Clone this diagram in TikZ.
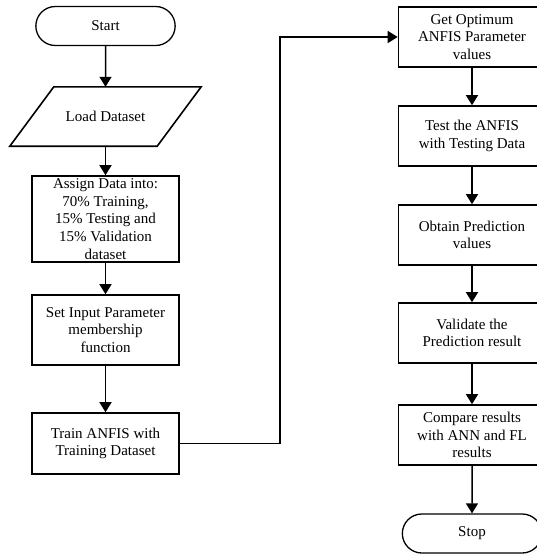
\documentclass[tikz,border=0pt]{standalone}
\usepackage{fontspec}
\setmainfont{Liberation Serif}
\usetikzlibrary{arrows.meta,shapes.misc}

\tikzset{
  box/.style={draw,line width=1.6pt,rectangle,minimum width=147pt,align=center,
    font=\fontsize{15}{17.7}\selectfont,inner sep=1pt},
  term/.style={draw,line width=1.3pt,rounded rectangle,minimum width=146pt,minimum height=39pt,
    font=\fontsize{15}{17.7}\selectfont},
  flow/.style={line width=1.5pt,-{Triangle[width=12pt,length=10pt]}}
}

\begin{document}
\begin{tikzpicture}[x=1pt,y=-1pt]
				\useasboundingbox (0,0) rectangle (537,555);
				% left column
				\node[term] (start) at (105.5,26) {Start};
				\node[minimum width=147pt,minimum height=59pt,font=\fontsize{15}{17.7}\selectfont] (load) at (105.5,116.5) {Load Dataset};
				\draw[line width=1.6pt] ([xshift=22pt]load.north west) -- ([xshift=22pt]load.north east)
					-- ([xshift=-22pt]load.south east) -- ([xshift=-22pt]load.south west) -- cycle;
				\node[box,minimum height=86pt] (assign) at (105.5,219) {Assign Data into:\\70\% Training,\\15\% Testing and\\15\% Validation\\dataset};
				\node[box,minimum height=70pt] (setin) at (105.5,330) {Set Input Parameter\\membership\\function};
				\node[box,minimum height=61pt] (train) at (105.5,443.5) {Train ANFIS with\\Training Dataset};
				\coordinate (bend) at (280,443.5);

				% right column
				\node[box,minimum height=60pt] (getopt) at (472,37) {Get Optimum\\ANFIS Parameter\\values};
				\node[box,minimum height=60pt] (test) at (472,136) {Test the ANFIS\\with Testing Data};
				\node[box,minimum height=60pt] (obtain) at (472,235) {Obtain Prediction\\values};
				\node[box,minimum height=60pt] (valid) at (472,333) {Validate the\\Prediction result};
				\node[box,minimum height=60pt] (compare) at (472,435) {Compare results\\with ANN and FL\\results};
				\node[term] (stop) at (472,533.5) {Stop};

				\draw[flow] (start) -- (load);
				\draw[flow] (load) -- (assign);
				\draw[flow] (assign) -- (setin);
				\draw[flow] (setin) -- (train);
				\draw[flow] (train.east) -- (bend) |- (getopt.west);
				\draw[flow] (getopt) -- (test);
				\draw[flow] (test) -- (obtain);
				\draw[flow] (obtain) -- (valid);
				\draw[flow] (valid) -- (compare);
				\draw[flow] (compare) -- (stop);
			\end{tikzpicture}
\end{document}
